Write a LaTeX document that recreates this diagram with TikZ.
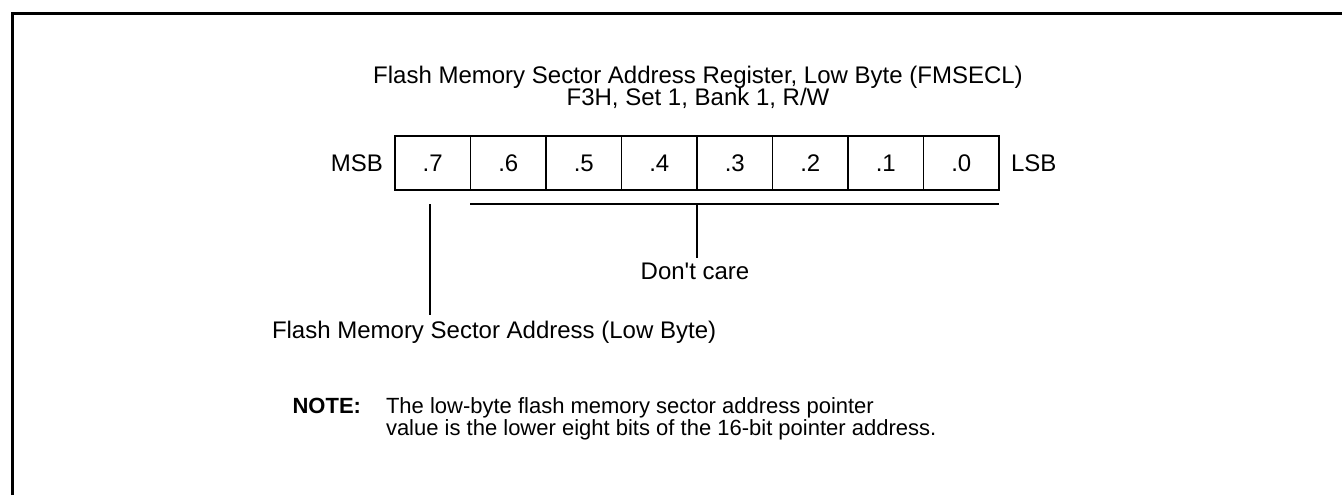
\documentclass[tikz,border=0pt]{standalone}
\usepackage{fontspec}
\setmainfont{Liberation Sans}
\begin{document}
\begin{tikzpicture}[x=0.5pt,y=-0.5pt,
  txt/.style={inner sep=0pt,outer sep=0pt,font=\fontsize{12}{14}\selectfont},
  notetxt/.style={inner sep=0pt,outer sep=0pt,font=\fontsize{11}{13}\selectfont},
  cell/.style={draw,line width=0.8pt,minimum width=37.75pt,minimum height=27pt,inner sep=0pt,outer sep=0pt,font=\fontsize{12}{14}\selectfont},
  frame/.style={line width=1.5pt},
  conn/.style={line width=0.8pt}]
\useasboundingbox (0,0) rectangle (1342,495);
\draw[frame] (12.5,495) -- (12.5,13.5) -- (1342,13.5);
\node[txt,anchor=base] (t1) at (698,83) {Flash Memory Sector Address Register, Low Byte (FMSECL)};
\node[txt,anchor=base] (t2) at (698,105) {F3H, Set 1, Bank 1, R/W};
\foreach \i [count=\k from 0] in {7,6,5,4,3,2,1,0} {
  \node[cell] (c\i) at ({395+37.75+75.5*\k},163) {.\i};
}
\node[txt,anchor=east] (msb) at (383,163) {MSB};
\node[txt,anchor=west] (lsb) at (1011,163) {LSB};
\coordinate (ul) at (470,204);
\coordinate (ur) at (999,204);
\draw[conn] (ul) -- (ur);
\coordinate (v7a) at (430,204);
\coordinate (v7b) at (430,315);
\draw[conn] (v7a) -- (v7b);
\coordinate (dca) at (697,204);
\coordinate (dcb) at (697,258);
\draw[conn] (dca) -- (dcb);
\node[txt,anchor=base] (dc) at (695,279) {Don\textquotesingle t care};
\node[txt,anchor=base west] (fmsa) at (272,338) {Flash Memory Sector Address (Low Byte)};
\node[notetxt,anchor=base east,font=\fontsize{11}{13}\selectfont\bfseries] (note) at (361,413) {NOTE:};
\node[notetxt,anchor=base west] (n1) at (386,413) {The low-byte flash memory sector address pointer};
\node[notetxt,anchor=base west] (n2) at (386,435) {value is the lower eight bits of the 16-bit pointer address.};
\end{tikzpicture}
\end{document}
